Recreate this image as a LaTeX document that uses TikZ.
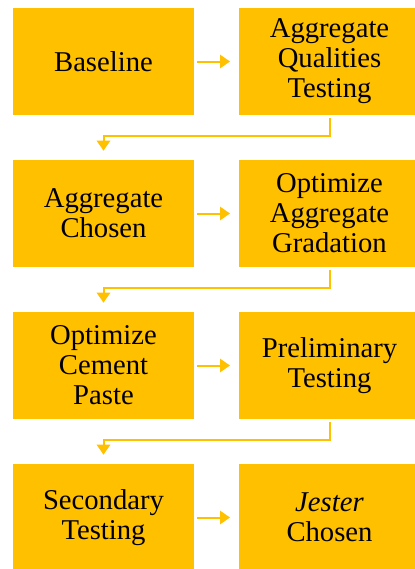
\documentclass[tikz,border=0pt]{standalone}
\usepackage{fontspec}
\setmainfont{Liberation Serif}
\newfontfamily\tnr{Liberation Serif}
\usepackage{xcolor}
\usetikzlibrary{positioning,arrows.meta}
\definecolor{gold}{HTML}{FFC000}

\begin{document}
\begin{tikzpicture}[
  node distance=33.75pt,
  stage/.style={fill=gold, minimum width=135.75pt, minimum height=80.25pt,
                align=center, inner sep=0pt, outer sep=0pt,
                font=\tnr\fontsize{21.5}{22.5}\selectfont},
  link/.style={draw=gold, line width=1.5pt,
               -{Triangle[length=7.5pt,width=10pt]}},
]
\useasboundingbox (0,0) rectangle (311.25pt,-426.75pt);
\node[stage, anchor=north west] (base) at (9.75pt,-6pt) {Baseline};
\node[stage, right=of base]  (qual)   {Aggregate\\Qualities\\Testing};
\node[stage, below=of base]  (chosen) {Aggregate\\Chosen};
\node[stage, right=of chosen] (grad)  {Optimize\\Aggregate\\Gradation};
\node[stage, below=of chosen] (paste) {Optimize\\Cement\\Paste};
\node[stage, right=of paste] (prelim) {Preliminary\\Testing};
\node[stage, below=of paste] (second) {Secondary\\Testing};
\node[stage, right=of second] (jester) {\textit{Jester}\\Chosen};
% across each row
\foreach \a/\b in {base/qual, chosen/grad, paste/prelim, second/jester}
  \draw[link, shorten <=2.25pt, shorten >=6.75pt] (\a) -- (\b);
% back to the next row
\foreach \a/\b in {qual/chosen, grad/paste, prelim/second}
  \draw[link, shorten <=2.25pt, shorten >=7pt]
    (\a.south) -- ++(0,-15.75pt) -| (\b.north);
\end{tikzpicture}
\end{document}
